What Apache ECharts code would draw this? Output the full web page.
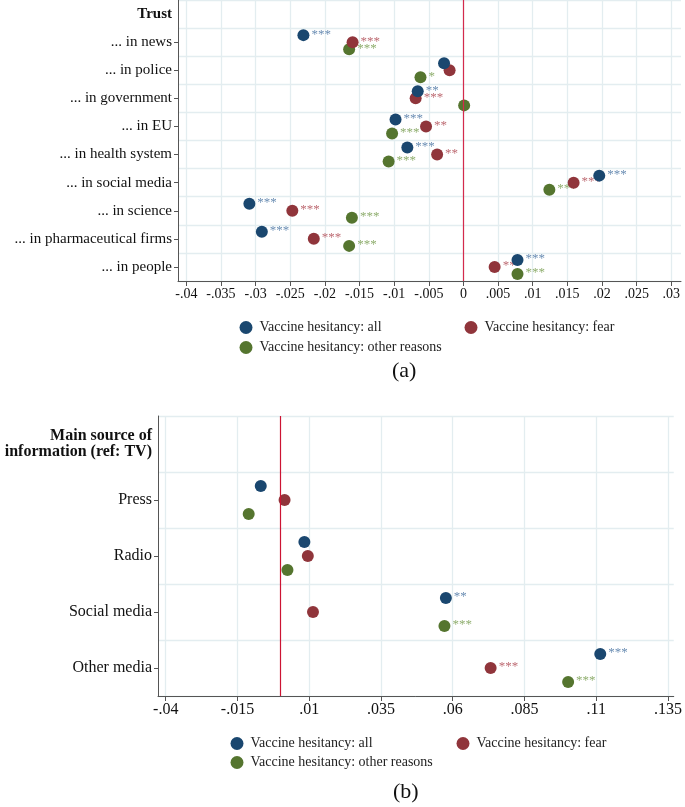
<!DOCTYPE html>
<html>
<head>
<meta charset="utf-8">
<script src="https://cdn.jsdelivr.net/npm/echarts@6/dist/echarts.min.js"></script>
<style>
html,body{margin:0;padding:0;background:#fff;}
#chart{width:685px;height:807px;}
</style>
</head>
<body>
<div id="chart"></div>
<script>
// ---------- Panel (a): Trust ----------
const trustCats = ['Trust', '... in news', '... in police', '... in government', '... in EU',
  '... in health system', '... in social media', '... in science',
  '... in pharmaceutical firms', '... in people'];
const trustAll   = [-0.0231, -0.0028, -0.0066, -0.0098, -0.0081, 0.0196, -0.0309, -0.0291, 0.0078];
const trustFear  = [-0.0160, -0.0020, -0.0069, -0.0054, -0.0038, 0.0159, -0.0247, -0.0216, 0.0045];
const trustOther = [-0.0165, -0.0062, 0.0001, -0.0103, -0.0108, 0.0124, -0.0161, -0.0165, 0.0078];
const trustStarsAll   = ['***', '', '**', '***', '***', '***', '***', '***', '***'];
const trustStarsFear  = ['***', '', '***', '**', '**', '***', '***', '***', '**'];
const trustStarsOther = ['***', '*', '', '***', '***', '***', '***', '***', '***'];
const trustTicks = [-0.04, -0.035, -0.03, -0.025, -0.02, -0.015, -0.01, -0.005, 0,
  0.005, 0.01, 0.015, 0.02, 0.025, 0.03];

// ---------- Panel (b): Main source of information ----------
const srcCats = ['Main source of\ninformation (ref: TV)', 'Press', 'Radio', 'Social media', 'Other media'];
const srcAll   = [-0.0069, 0.0083, 0.0576, 0.1114];
const srcFear  = [0.0014, 0.0095, 0.0113, 0.0732];
const srcOther = [-0.0111, 0.0024, 0.0571, 0.1002];
const srcStarsAll   = ['', '', '**', '***'];
const srcStarsFear  = ['', '', '', '***'];
const srcStarsOther = ['', '', '***', '***'];
const srcTicks = [-0.04, -0.015, 0.01, 0.035, 0.06, 0.085, 0.11, 0.135];

const seriesNames = ['Vaccine hesitancy: all', 'Vaccine hesitancy: fear', 'Vaccine hesitancy: other reasons'];
const colors = ['#1a476f', '#90353b', '#55752f'];
const starColors = ['#6a8db3', '#bd6a72', '#8fae6e'];

const FONT = 'Liberation Serif, Times New Roman, serif';

function fmtTick(v) {
  const r = Math.round(v * 1000) / 1000;
  if (r === 0) return '0';
  return String(r).replace('0.', '.');
}

function scat(nameIdx, xs, stars, off, axisIdx, z, size) {
  return {
    type: 'scatter',
    name: seriesNames[nameIdx],
    xAxisIndex: axisIdx,
    yAxisIndex: axisIdx * 2 + 1,
    z: z,
    symbol: 'circle',
    symbolSize: size,
    itemStyle: { color: colors[nameIdx], opacity: 1 },
    label: {
      show: true,
      position: 'right',
      distance: 2,
      offset: [0, -1],
      color: starColors[nameIdx],
      fontFamily: FONT,
      fontSize: 13,
      formatter: p => stars[p.dataIndex]
    },
    emphasis: { disabled: true },
    data: xs.map((v, i) => [v, i + 1 + off])
  };
}

function catAxis(gridIdx, cats, fontSize) {
  return {
    type: 'category',
    gridIndex: gridIdx,
    data: cats,
    inverse: true,
    boundaryGap: true,
    axisLine: { show: true, onZero: false, lineStyle: { color: '#555', width: 1 } },
    axisTick: { show: true, alignWithLabel: true, length: 4, inside: false,
      interval: (i) => i > 0, lineStyle: { color: '#555' } },
    axisLabel: {
      interval: 0,
      margin: 6,
      color: '#111',
      fontFamily: FONT,
      fontSize: fontSize,
      align: 'right',
      formatter: (v, i) => i === 0 ? v.split('\n').map(s => '{b|' + s + '}').join('\n') : v,
      rich: { b: { fontWeight: 'bold', fontFamily: FONT, fontSize: fontSize, color: '#111', align: 'right' } }
    },
    splitLine: { show: true, interval: 0, lineStyle: { color: '#e3edf0', width: 1.3 } }
  };
}

function valY(gridIdx, n) {
  return { type: 'value', gridIndex: gridIdx, min: -0.5, max: n - 0.5, inverse: true, show: false,
    splitLine: { show: false } };
}

function valX(gridIdx, min, max, ticks, fontSize) {
  return {
    type: 'value',
    gridIndex: gridIdx,
    min: min,
    max: max,
    axisLine: { show: true, onZero: false, lineStyle: { color: '#555', width: 1 } },
    axisTick: { show: true, length: 5, customValues: ticks, lineStyle: { color: '#555' } },
    axisLabel: { customValues: ticks, formatter: fmtTick, color: '#111', fontFamily: FONT,
      fontSize: fontSize, margin: 6, hideOverlap: false },
    splitLine: { show: true, lineStyle: { color: '#e3edf0', width: 1.3 } }
  };
}

function zeroLine(axisIdx, color) {
  return {
    type: 'scatter', name: 'zero', xAxisIndex: axisIdx, yAxisIndex: axisIdx * 2 + 1, z: 1,
    data: [], silent: true,
    markLine: { silent: true, symbol: ['none', 'none'], label: { show: false },
      lineStyle: { color: color, width: 1.2, type: 'solid' },
      emphasis: { disabled: true },
      data: [{ xAxis: 0 }] }
  };
}

function legendItem(nameIdx, left, top) {
  return {
    data: [seriesNames[nameIdx]], left: left, top: top, padding: 0, itemGap: 0,
    icon: 'circle', itemWidth: 13, itemHeight: 13, selectedMode: false,
    textStyle: { fontFamily: FONT, fontSize: 14, color: '#222', padding: [0, 0, 0, 2] }
  };
}

const chart = echarts.init(document.getElementById('chart'), null, { renderer: 'canvas' });
const option = {
  backgroundColor: '#fff',
  animation: false,
  grid: [
    { left: 178, top: 0, width: 503, height: 281, containLabel: false },
    { left: 158, top: 416, width: 524, height: 280, containLabel: false }
  ],
  xAxis: [
    valX(0, -0.0412, 0.0314, trustTicks, 14),
    valX(1, -0.0427, 0.137, srcTicks, 16)
  ],
  yAxis: [
    catAxis(0, trustCats, 15),
    valY(0, trustCats.length),
    catAxis(1, srcCats, 16),
    valY(1, srcCats.length)
  ],
  legend: [
    legendItem(0, 239.5, 320.5),
    legendItem(1, 464.5, 320.5),
    legendItem(2, 239.5, 340.5),
    legendItem(0, 230.5, 736.5),
    legendItem(1, 456.5, 736.5),
    legendItem(2, 230.5, 755.5)
  ],
  graphic: [
    { type: 'text', left: 392, top: 360, style: { text: '(a)', font: '22px ' + FONT, fill: '#111' } },
    { type: 'text', left: 393, top: 781, style: { text: '(b)', font: '22px ' + FONT, fill: '#111' } }
  ],
  series: [
    zeroLine(0, '#d42a4c'),
    scat(2, trustOther, trustStarsOther, 0.25, 0, 2, 12),
    scat(1, trustFear, trustStarsFear, 0, 0, 3, 12),
    scat(0, trustAll, trustStarsAll, -0.25, 0, 4, 12),
    zeroLine(1, '#cc1433'),
    scat(2, srcOther, srcStarsOther, 0.25, 1, 2, 12),
    scat(1, srcFear, srcStarsFear, 0, 1, 3, 12),
    scat(0, srcAll, srcStarsAll, -0.25, 1, 4, 12)
  ]
};
chart.setOption(option);
</script>
</body>
</html>
